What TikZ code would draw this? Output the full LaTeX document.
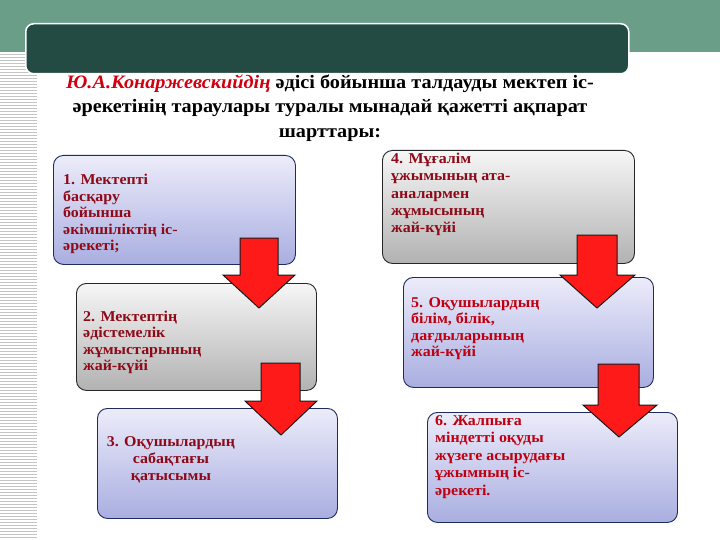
\documentclass[tikz,border=0pt]{standalone}
\usepackage{fontspec}
\setmainfont{Liberation Serif}[FakeStretch=1.065]
\usetikzlibrary{shadings}
\definecolor{band}{HTML}{6B9E89}
\definecolor{darkbox}{HTML}{234B43}
\definecolor{stripe}{HTML}{C4C4C4}
\definecolor{lavtop}{HTML}{ECECFA}
\definecolor{lavbot}{HTML}{A9AEE0}
\definecolor{graytop}{HTML}{F6F6F6}
\definecolor{graybot}{HTML}{B2B2B2}
\definecolor{navy}{HTML}{1F2A5E}
\definecolor{txtred}{HTML}{8E0A18}
\definecolor{txtbright}{HTML}{C00010}
\definecolor{titlered}{HTML}{D00010}
\definecolor{arrred}{HTML}{FF1A1A}
\tikzset{
  lavbox/.style={draw=navy, line width=0.9pt, rounded corners=10pt, top color=lavtop, bottom color=lavbot, anchor=north west, inner sep=0pt},
  graybox/.style={draw=black!85, line width=0.9pt, rounded corners=10pt, top color=graytop, bottom color=graybot, anchor=north west, inner sep=0pt},
  boxtext/.style={anchor=north west, inner sep=0pt, align=left, text=txtred, font=\bfseries\fontsize{15}{16.5}\selectfont},
  redarrow/.style={fill=arrred, draw=black!90, line width=1pt, line join=miter}
}
\begin{document}
\begin{tikzpicture}[x=1pt,y=-1pt]
\useasboundingbox (0,0) rectangle (720,540);
% background
\fill[white] (0,0) rectangle (720,540);
\fill[band] (0,0) rectangle (720,52);
\foreach \yy in {54,57,...,540} \draw[stripe, line width=0.9pt] (0,\yy) -- (37,\yy);
% header box
\node[draw=white, line width=1.5pt, fill=darkbox, rounded corners=8pt, anchor=north west, minimum width=603, minimum height=50, inner sep=0pt] (header) at (25,23) {};
% title
\node[align=center, inner sep=0pt, font=\bfseries\fontsize{19}{24.5}\selectfont] (title) at (330,108)
  {{\color{titlered}\itshape Ю.А.Конаржевскийдің} әдісі бойынша талдауды мектеп іс-\\
   әрекетінің тараулары туралы мынадай қажетті ақпарат\\
   шарттары:};
% boxes
\node[lavbox, minimum width=242, minimum height=109] (b1) at (53,155) {};
\node[graybox, minimum width=240, minimum height=107] (b2) at (76,283) {};
\node[lavbox, minimum width=240, minimum height=110] (b3) at (97,408) {};
\node[graybox, minimum width=252, minimum height=113] (b4) at (382,150) {};
\node[lavbox, minimum width=250, minimum height=110] (b5) at (403,277) {};
\node[lavbox, minimum width=250, minimum height=110] (b6) at (427,412) {};
% texts
\node[boxtext] (t1) at (63,174) {1. Мектепті\\басқару\\бойынша\\әкімшіліктің іс-\\әрекеті;};
\node[boxtext, font=\bfseries\fontsize{15}{16.2}\selectfont] (t2) at (83,311) {2. Мектептің\\әдістемелік\\жұмыстарының\\жай-күйі};
\node[boxtext, align=center, anchor=north, font=\bfseries\fontsize{15}{17}\selectfont] (t3) at (171,436) {3. Оқушылардың\\сабақтағы\\қатысымы};
\node[boxtext, font=\bfseries\fontsize{15}{17.3}\selectfont] (t4) at (391,153) {4. Мұғалім\\ұжымының ата-\\аналармен\\жұмысының\\жай-күйі};
\node[boxtext, text=txtbright, font=\bfseries\fontsize{15}{16.5}\selectfont] (t5) at (411,297) {5. Оқушылардың\\білім, білік,\\дағдыларының\\жай-күйі};
\node[boxtext, text=txtbright, font=\bfseries\fontsize{15}{17.5}\selectfont] (t6) at (435,415) {6. Жалпыға\\міндетті оқуды\\жүзеге асырудағы\\ұжымның іс-\\әрекеті.};
% block arrows
\draw[redarrow] (240,238) -- (278,238) -- (278,275) -- (295,275) -- (259,308) -- (223,275) -- (240,275) -- cycle;
\draw[redarrow] (261,363) -- (300,363) -- (300,401) -- (317,401) -- (281,435) -- (245,401) -- (261,401) -- cycle;
\draw[redarrow] (577,235) -- (617,235) -- (617,275) -- (635,275) -- (597,308) -- (560,275) -- (577,275) -- cycle;
\draw[redarrow] (598,364) -- (639,364) -- (639,405) -- (657,405) -- (619,437) -- (583,405) -- (598,405) -- cycle;
\end{tikzpicture}
\end{document}
